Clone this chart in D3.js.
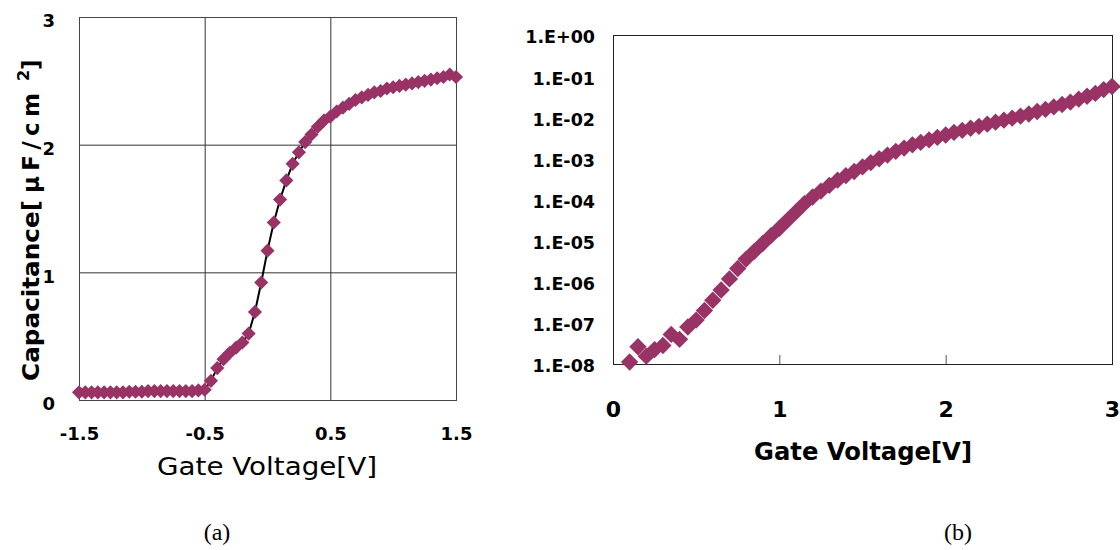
<!DOCTYPE html>
<html>
<head>
<meta charset="utf-8">
<script src="https://cdn.jsdelivr.net/npm/d3@7"></script>
<style>
  body { margin: 0; background: #fff; }
  svg { display: block; }
</style>
</head>
<body>
<svg id="chart" width="1120" height="550"></svg>
<script>
// (a) C-V curve
var capVoltage = [-1.5, -1.45, -1.4, -1.35, -1.3, -1.25, -1.2, -1.15, -1.1, -1.05,
  -1.0, -0.95, -0.9, -0.85, -0.8, -0.75, -0.7, -0.65, -0.6, -0.55,
  -0.5, -0.45, -0.4, -0.35, -0.3, -0.25, -0.2, -0.15, -0.1, -0.05,
  0.0, 0.05, 0.1, 0.15, 0.2, 0.25, 0.3, 0.35, 0.4, 0.45,
  0.5, 0.55, 0.6, 0.65, 0.7, 0.75, 0.8, 0.85, 0.9, 0.95,
  1.0, 1.05, 1.1, 1.15, 1.2, 1.25, 1.3, 1.35, 1.4, 1.45, 1.5]
var capValues = [0.06, 0.06, 0.06, 0.06, 0.06, 0.06, 0.06, 0.06, 0.065, 0.065,
  0.065, 0.07, 0.07, 0.07, 0.07, 0.07, 0.07, 0.07, 0.07, 0.075,
  0.08, 0.15, 0.25, 0.32, 0.37, 0.41, 0.45, 0.52, 0.69, 0.92,
  1.17, 1.39, 1.57, 1.72, 1.85, 1.94, 2.02, 2.08, 2.14, 2.19,
  2.22, 2.26, 2.29, 2.32, 2.35, 2.37, 2.39, 2.41, 2.42, 2.44,
  2.45, 2.46, 2.47, 2.48, 2.49, 2.50, 2.51, 2.52, 2.53, 2.55, 2.53]
var capXTicks = [-1.5, -0.5, 0.5, 1.5]
var capYTicks = [0, 1, 2, 3]

// (b) log plot
var logVoltage = [0.1, 0.15, 0.2, 0.25, 0.3, 0.35, 0.4, 0.45, 0.5, 0.55,
  0.6, 0.65, 0.7, 0.75, 0.8, 0.85, 0.9, 0.95, 1.0, 1.05,
  1.1, 1.15, 1.2, 1.25, 1.3, 1.35, 1.4, 1.45, 1.5, 1.55,
  1.6, 1.65, 1.7, 1.75, 1.8, 1.85, 1.9, 1.95, 2.0, 2.05,
  2.1, 2.15, 2.2, 2.25, 2.3, 2.35, 2.4, 2.45, 2.5, 2.55,
  2.6, 2.65, 2.7, 2.75, 2.8, 2.85, 2.9, 2.95, 3.0]
var logValues = [1.12e-8, 2.63e-8, 1.55e-8, 2.24e-8, 2.82e-8, 5.25e-8, 3.98e-8, 7.94e-8, 1.17e-7, 2.0e-7,
  3.55e-7, 6.3e-7, 1.17e-6, 2.1e-6, 3.55e-6, 5.5e-6, 8.5e-6, 1.32e-5, 2.0e-5, 3.16e-5,
  5.0e-5, 7.9e-5, 1.15e-4, 1.6e-4, 2.2e-4, 2.95e-4, 3.8e-4, 4.8e-4, 6.2e-4, 7.9e-4,
  9.8e-4, 1.2e-3, 1.48e-3, 1.78e-3, 2.14e-3, 2.45e-3, 2.82e-3, 3.24e-3, 3.7e-3, 4.27e-3,
  4.8e-3, 5.4e-3, 6.0e-3, 6.8e-3, 7.6e-3, 8.5e-3, 9.5e-3, 1.07e-2, 1.2e-2, 1.38e-2,
  1.55e-2, 1.78e-2, 2.04e-2, 2.34e-2, 2.75e-2, 3.24e-2, 3.8e-2, 4.7e-2, 5.6e-2]
var logXTicks = [0, 1, 2, 3]
var logYTicks = [1, 1e-1, 1e-2, 1e-3, 1e-4, 1e-5, 1e-6, 1e-7, 1e-8]

var markerColor = '#993366'
var tickFont = '"DejaVu Sans", Arial, sans-serif'

var svg = d3.select('#chart')
var diamondA = d3.symbol().type(d3.symbolSquare).size(100)
var diamondB = d3.symbol().type(d3.symbolSquare).size(150)

// ---------- (a) ----------
var a = svg.append('g')

var xA = d3.scaleLinear().domain([-1.5, 1.5]).range([79, 456])
var yA = d3.scaleLinear().domain([0, 3]).range([400, 17])

// grid
a.append('g')
    .attr('transform', 'translate(0,400)')
    .call(d3.axisBottom(xA).tickValues([-0.5, 0.5]).tickSize(-383).tickFormat(''))
    .call(g => g.select('.domain').remove())
    .selectAll('line').attr('stroke', '#333')
a.append('g')
    .attr('transform', 'translate(79,0)')
    .call(d3.axisLeft(yA).tickValues([1, 2]).tickSize(-377).tickFormat(''))
    .call(g => g.select('.domain').remove())
    .selectAll('line').attr('stroke', '#333')

a.append('rect')
    .attr('x', 79.5).attr('y', 17.5)
    .attr('width', 377).attr('height', 383)
    .attr('fill', 'none')
    .attr('stroke', '#444')
    .attr('stroke-width', 1)

// tick labels
a.append('g')
    .attr('transform', 'translate(0,400)')
    .call(d3.axisBottom(xA).tickValues(capXTicks).tickSize(0).tickPadding(27)
        .tickFormat(d => d.toFixed(1)))
    .call(g => g.select('.domain').remove())
    .selectAll('text')
    .attr('font-family', tickFont)
    .attr('font-weight', 'bold')
    .attr('font-size', 18)
    .attr('fill', '#000')

a.append('g')
    .attr('transform', 'translate(79,0)')
    .call(d3.axisLeft(yA).tickValues(capYTicks).tickSize(0).tickPadding(24)
        .tickFormat(d3.format('d')))
    .call(g => g.select('.domain').remove())
    .selectAll('text')
    .attr('dy', '0.55em')
    .attr('font-family', tickFont)
    .attr('font-weight', 'bold')
    .attr('font-size', 18)
    .attr('fill', '#000')

// line + markers
var capPoints = capVoltage.map((v, i) => ({x: v, y: capValues[i]}))

a.append('path')
    .datum(capPoints)
    .attr('d', d3.line().x(d => xA(d.x)).y(d => yA(d.y)))
    .attr('fill', 'none')
    .attr('stroke', '#000')
    .attr('stroke-width', 2)

a.selectAll('.capMark')
    .data(capPoints)
    .enter()
    .append('path')
    .attr('class', 'capMark')
    .attr('d', diamondA)
    .attr('transform', d => 'translate(' + xA(d.x) + ',' + yA(d.y) + ') rotate(45)')
    .attr('fill', markerColor)

// axis titles
a.append('text')
    .attr('x', 267).attr('y', 475)
    .attr('text-anchor', 'middle')
    .attr('font-family', tickFont)
    .attr('font-size', 25)
    .attr('textLength', 220)
    .attr('lengthAdjust', 'spacingAndGlyphs')
    .text('Gate Voltage[V]')

// rotated y title, pieces placed along the rotated axis
var yTitle = a.append('g')
    .attr('transform', 'translate(39,381) rotate(-90)')
    .attr('font-family', tickFont)
    .attr('font-weight', 'bold')
    .attr('font-size', 23)
yTitle.append('text').attr('x', 0)
    .attr('textLength', 181).attr('lengthAdjust', 'spacingAndGlyphs')
    .text('Capacitance[')
yTitle.append('text').attr('x', 188)
    .attr('textLength', 100).attr('lengthAdjust', 'spacing')
    .text('μF/cm')
yTitle.append('text').attr('x', 300).attr('y', -10)
    .attr('font-size', 16)
    .text('2')
yTitle.append('text').attr('x', 311)
    .text(']')

// ---------- (b) ----------
var b = svg.append('g')

var xB = d3.scaleLinear().domain([0, 3]).range([613, 1112])
var yB = d3.scaleLog().domain([1e-8, 1]).range([364, 35])

b.append('rect')
    .attr('x', 613.5).attr('y', 35.5)
    .attr('width', 499).attr('height', 329)
    .attr('fill', 'none')
    .attr('stroke', '#222')
    .attr('stroke-width', 1)

// inner ticks on the bottom edge
b.append('g')
    .attr('transform', 'translate(0,364)')
    .call(d3.axisBottom(xB).tickValues([1, 2]).tickSize(-9).tickFormat(''))
    .call(g => g.select('.domain').remove())
    .selectAll('line').attr('stroke', '#555')

b.append('g')
    .attr('transform', 'translate(0,364)')
    .call(d3.axisBottom(xB).tickValues(logXTicks).tickSize(0).tickPadding(37)
        .tickFormat(d3.format('d')))
    .call(g => g.select('.domain').remove())
    .selectAll('text')
    .attr('font-family', tickFont)
    .attr('font-weight', 'bold')
    .attr('font-size', 22)
    .attr('fill', '#000')

var sciFmt = function (d) {
    var e = Math.round(Math.log10(d))
    return '1.E' + (e < 0 ? '-' : '+') + String(Math.abs(e)).padStart(2, '0')
}

b.append('g')
    .attr('transform', 'translate(613,0)')
    .call(d3.axisLeft(yB).tickValues(logYTicks).tickSize(0).tickPadding(18)
        .tickFormat(sciFmt))
    .call(g => g.select('.domain').remove())
    .selectAll('text')
    .attr('dy', '0.45em')
    .attr('font-family', tickFont)
    .attr('font-weight', 'bold')
    .attr('font-size', 17.5)
    .attr('fill', '#000')

var logPoints = logVoltage.map((v, i) => ({x: v, y: logValues[i]}))

b.selectAll('.logMark')
    .data(logPoints)
    .enter()
    .append('path')
    .attr('class', 'logMark')
    .attr('d', diamondB)
    .attr('transform', d => 'translate(' + xB(d.x) + ',' + yB(d.y) + ') rotate(45)')
    .attr('fill', markerColor)

b.append('text')
    .attr('x', 863).attr('y', 460)
    .attr('text-anchor', 'middle')
    .attr('font-family', tickFont)
    .attr('font-weight', 'bold')
    .attr('font-size', 25)
    .attr('textLength', 218)
    .attr('lengthAdjust', 'spacingAndGlyphs')
    .text('Gate Voltage[V]')

// captions
svg.selectAll('.caption')
    .data([{t: '(a)', x: 217}, {t: '(b)', x: 958}])
    .enter()
    .append('text')
    .attr('class', 'caption')
    .attr('x', d => d.x).attr('y', 540)
    .attr('text-anchor', 'middle')
    .attr('font-family', '"Liberation Serif", "Times New Roman", serif')
    .attr('font-size', 24)
    .text(d => d.t)
</script>
</body>
</html>
